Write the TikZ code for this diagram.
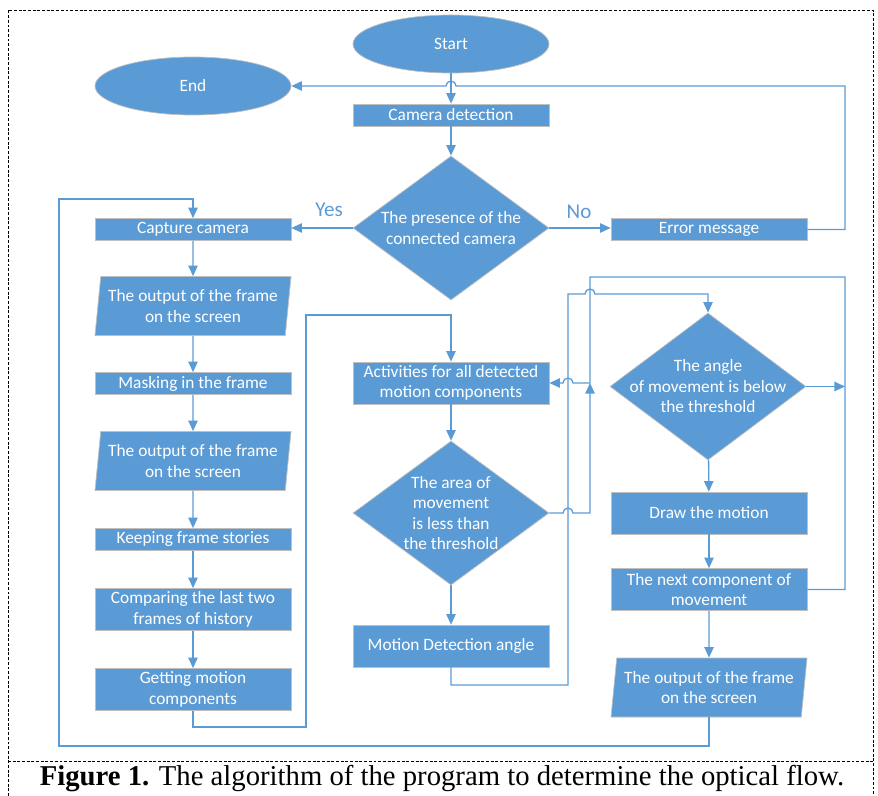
\documentclass[tikz,border=0pt]{standalone}
\usepackage{fontspec}
\setmainfont{Liberation Serif}
\newfontfamily\calibri{Carlito}
\usetikzlibrary{shapes.geometric, arrows.meta, positioning, calc}
\definecolor{flowblue}{HTML}{5B9BD5}
\definecolor{edgegray}{HTML}{BFBFBF}

\begin{document}
\begin{tikzpicture}[x=0.03cm, y=-0.03cm,
    % Define styles
    base/.style={draw=edgegray, line width=0.6pt, fill=flowblue, text=white, font=\calibri\fontsize{14.8}{17.5}\selectfont, align=center, inner sep=0pt},
    process/.style={base, rectangle, minimum width=5.88cm, minimum height=0.66cm},
    process2/.style={process, minimum height=1.26cm},
    terminal/.style={base, ellipse, minimum width=5.88cm, minimum height=1.74cm},
    decision/.style={base, diamond, minimum width=5.88cm, minimum height=4.32cm},
    dtext/.style={text=white, font=\calibri\fontsize{14.8}{17.5}\selectfont, align=center, inner sep=0pt},
    io/.style={base, trapezium, trapezium left angle=80, trapezium right angle=100, trapezium stretches body, minimum width=5.88cm, minimum height=1.77cm},
    arrow/.style={-{Triangle[length=9pt,width=8pt]}, draw=flowblue, line width=1.1pt},
    lbl/.style={text=flowblue, font=\calibri\fontsize{18}{20}\selectfont},
    frame/.style={draw=black, line width=0.7pt, dash pattern=on 2.5pt off 1.5pt},
    ]
    \useasboundingbox (0,0) rectangle (878,796);

    % Outer frame and caption
    \draw[frame] (8,796) -- (8,10) -- (873,10) -- (873,796);
    \draw[frame] (8,761) -- (873,761);
    \node[font=\fontsize{24.5}{26}\selectfont] (caption) at (442,779) {\textbf{Figure 1.} The algorithm of the program to determine the optical flow.};

    % Top part
    \node[terminal] (start) at (451,44) {Start};
    \node[terminal] (end) at (193,86) {End};
    \node[process] (camdet) at (451,115) {Camera detection};
    \node[decision, label={[dtext]center:{The presence of the\\connected camera}}] (presence) at (451,228) {};
    \node[process] (capture) at (193,229.5) {Capture camera};
    \node[process] (error) at (709,229.5) {Error message};
    \node[lbl] (yes) at (329,210) {Yes};
    \node[lbl] (no) at (579,212) {No};

    % Left column
    \node[io] (out1) at (193,306) {The output of the frame\\on the screen};
    \node[process] (mask) at (193,383.5) {Masking in the frame};
    \node[io] (out2) at (193,461) {The output of the frame\\on the screen};
    \node[process] (keep) at (193,539.5) {Keeping frame stories};
    \node[process2] (compare) at (193,609.5) {Comparing the last two\\frames of history};
    \node[process2] (motion) at (193,689.5) {Getting motion\\components};

    % Middle column
    \node[process2] (activ) at (451,383) {Activities for all detected\\motion components};
    \node[decision, label={[dtext]center:{The area of\\movement\\is less than\\the threshold}}] (area) at (451,513) {};
    \node[process2] (mdangle) at (451,646) {Motion Detection angle};

    % Right column
    \node[decision, minimum height=4.41cm, label={[dtext]center:{The angle\\of movement is below\\the threshold}}] (angle) at (708,386.5) {};
    \node[process2] (drawm) at (709,513) {Draw the motion};
    \node[process2] (next) at (709,589.5) {The next component of\\movement};
    \node[io] (out3) at (709,687.5) {The output of the frame\\on the screen};

    % Bend points
    \coordinate (eR) at (845,86);
    \coordinate (gA) at (306,727);
    \coordinate (gB) at (306,315);
    \coordinate (mA) at (568,685);
    \coordinate (mB) at (568,294);
    \coordinate (vB) at (590,277);
    \coordinate (jn) at (590,383);
    \coordinate (nR) at (845,277);
    \coordinate (oA) at (59,746);
    \coordinate (oB) at (59,199);

    % Arrows
    \draw[arrow] (start) -- (camdet);
    \draw[arrow] (camdet) -- (presence);
    \draw[arrow] (presence.west) -- (presence.west -| capture.east);
    \draw[arrow] (presence.east) -- (presence.east -| error.west);
    \draw[arrow] (error.east) -| (eR) -- ($(start.south |- eR)+(0.15cm,0)$) arc[start angle=0, end angle=180, radius=0.15cm] -- (end.east);

    \foreach \a/\b in {capture/out1, out1/mask, mask/out2, out2/keep, keep/compare, compare/motion}
        \draw[arrow] (\a) -- (\b);

    \draw[arrow] (motion.south) |- (gA) -- (gB) -| (activ.north);
    \draw[arrow] (activ) -- (area);
    \draw[arrow] (area) -- (mdangle);

    \draw[arrow] (mdangle.south) |- (mA) -- (mB) -- ($(mB -| vB)+(-0.15cm,0)$) arc[start angle=180, end angle=0, radius=0.15cm] -| (angle.north);
    \draw[arrow] (area.east) -- ($(area.east -| mA)+(-0.15cm,0)$) arc[start angle=180, end angle=0, radius=0.15cm] -| (jn);
    \draw[arrow] (next.east) -| (nR) -- (vB) |- ($(activ.east -| mA)+(0.15cm,0)$) arc[start angle=0, end angle=180, radius=0.15cm] -- (activ.east);
    \draw[arrow] (angle.east) -- (angle.east -| nR);

    \draw[arrow] (angle) -- (drawm);
    \draw[arrow] (drawm) -- (next);
    \draw[arrow] (next) -- (out3);
    \draw[arrow] (out3.south) |- (oA) -- (oB) -| (capture.north);

\end{tikzpicture}
\end{document}
